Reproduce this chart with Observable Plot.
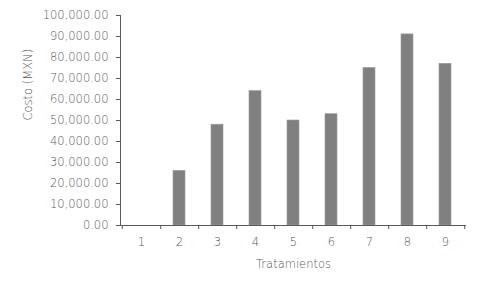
<!DOCTYPE html>
<html><head><meta charset="utf-8">
<script src="https://cdn.jsdelivr.net/npm/d3@7"></script>
<script src="https://cdn.jsdelivr.net/npm/@observablehq/plot@0.6"></script>
<style>
body{margin:0;background:#fff;}
svg{font-family:"DejaVu Sans",sans-serif;}
</style></head><body>
<div id="chart"></div>
<script>
const tratamientos = ["1","2","3","4","5","6","7","8","9"];
const costos = [0, 26000, 48000, 64000, 50000, 53000, 75000, 91000, 77000];
const yTicks = [0,10000,20000,30000,40000,50000,60000,70000,80000,90000,100000];
const data = tratamientos.map((t,i)=>({t, c: costos[i]}));

const W = 481, H = 289, mL = 120, mR = 15;
const bw = (W - mL - mR) / tratamientos.length;
const grey = "#595959";
const fs = 11.5;

const chart = Plot.plot({
  width: W, height: H,
  marginLeft: mL, marginRight: mR, marginTop: 15, marginBottom: 64,
  style: {color: grey, fontSize: fs + "px", fontWeight: 200, background: "#fff"},
  x: {domain: tratamientos, paddingInner: 0.69, paddingOuter: 0.345, label: null},
  y: {domain: [0, 100000], label: null},
  marks: [
    Plot.barY(data, {x: "t", y: "c", fill: "#808080", stroke: "#9a9a9a", strokeWidth: 0.6}),
    Plot.frame({anchor: "left", stroke: grey}),
    Plot.axisY({ticks: yTicks, tickFormat: d3.format(",.2f"), tickSize: 4, tickPadding: 8, stroke: grey, fill: grey, fontSize: fs}),
    Plot.ruleY([0], {stroke: grey}),
    Plot.axisX({tickSize: 0, tickPadding: 12, fill: grey, fontSize: fs}),
    Plot.axisX({ticks: tratamientos, tickSize: 4, dx: bw/2, text: null, stroke: grey}),
    Plot.axisX({ticks: [tratamientos[0]], tickSize: 4, dx: -bw/2, text: null, stroke: grey}),
    Plot.text(["Tratamientos"], {frameAnchor: "bottom", dy: 42, fill: grey, fontSize: fs}),
    Plot.text(["Costo (MXN)"], {frameAnchor: "left", dx: -92, rotate: -90, fill: grey, fontSize: fs})
  ]
});
document.getElementById("chart").appendChild(chart);
</script></body></html>
